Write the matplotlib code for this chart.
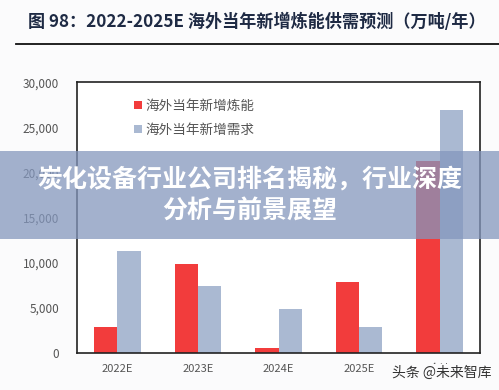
import matplotlib.pyplot as plt
import numpy as np
from matplotlib.patches import Rectangle

plt.rcParams['font.family'] = ['Noto Sans CJK SC', 'DejaVu Sans']

# 数据（万吨/年）
anos = ['2022E', '2023E', '2024E', '2025E', '合计']
oferta = [2900, 9900, 500, 7850, 21300]
demanda = [11300, 7400, 4900, 2900, 26900]
rotulos = ['海外当年新增炼能', '海外当年新增需求']
yticks = [0, 5000, 10000, 15000, 20000, 25000, 30000]

vermelho = '#F23C3C'
azul = '#AAB9D2'

fig = plt.figure(figsize=(4.99, 3.90), dpi=100)
fig.patch.set_facecolor('#fbfbfc')

# titulo e linha
fig.text(28 / 499, 1 - 22 / 390, '图 98：2022-2025E 海外当年新增炼能供需预测（万吨/年）',
         fontsize=12.3, fontweight='bold', color='#1e2a44', va='center', ha='left')
fig.add_artist(plt.Line2D([16 / 499, 1], [1 - 43.5 / 390] * 2, color='#111111', lw=1.3))

ax = fig.add_axes([77 / 499, 1 - 352.7 / 390, 403 / 499, 270.2 / 390])
ax.set_facecolor('white')
x = np.arange(len(anos))
w = 0.29
ax.bar(x - w / 2, oferta, w, color=vermelho, label=rotulos[0])
ax.bar(x + w / 2, demanda, w, color=azul, label=rotulos[1])

ax.set_xlim(-0.5, len(anos) - 0.5)
ax.set_ylim(0, 30000)
ax.set_yticks(yticks)
ax.set_yticklabels([f'{v:,}' for v in yticks])
ax.set_xticks(x)
ax.set_xticklabels(anos)
ax.tick_params(axis='both', length=0, colors='#555555')
ax.tick_params(axis='y', labelsize=8.5, pad=13)
ax.tick_params(axis='x', labelsize=8, pad=8)
for s in ax.spines.values():
    s.set_color('#222222')
    s.set_linewidth(1.2)

ax.legend(loc='upper left', bbox_to_anchor=(0.125, 0.965), frameon=False,
          fontsize=9.8, handlelength=0.6, handleheight=0.6, handletextpad=0.2,
          labelspacing=0.75, labelcolor='#555555', borderpad=0)

# faixa sobreposta
fig.add_artist(Rectangle((0, 1 - 239 / 390), 1, 88 / 390, transform=fig.transFigure,
                         facecolor='#8497BD', alpha=0.75, edgecolor='none', zorder=10))
fig.text(0.5, 1 - 179 / 390, '炭化设备行业公司排名揭秘，行业深度', fontsize=18,
         fontweight='bold', color='white', ha='center', va='center', zorder=11)
fig.text(0.5, 1 - 212 / 390, '分析与前景展望', fontsize=18,
         fontweight='bold', color='white', ha='center', va='center', zorder=11)

# marca d'agua
fig.text(442 / 499, 1 - 373 / 390, '头条 @未来智库', fontsize=10, color='#333333',
         ha='center', va='center', zorder=12,
         bbox=dict(facecolor='#fbfbfc', edgecolor='none', pad=1))

fig.savefig('out.png', dpi=100, facecolor=fig.get_facecolor())
